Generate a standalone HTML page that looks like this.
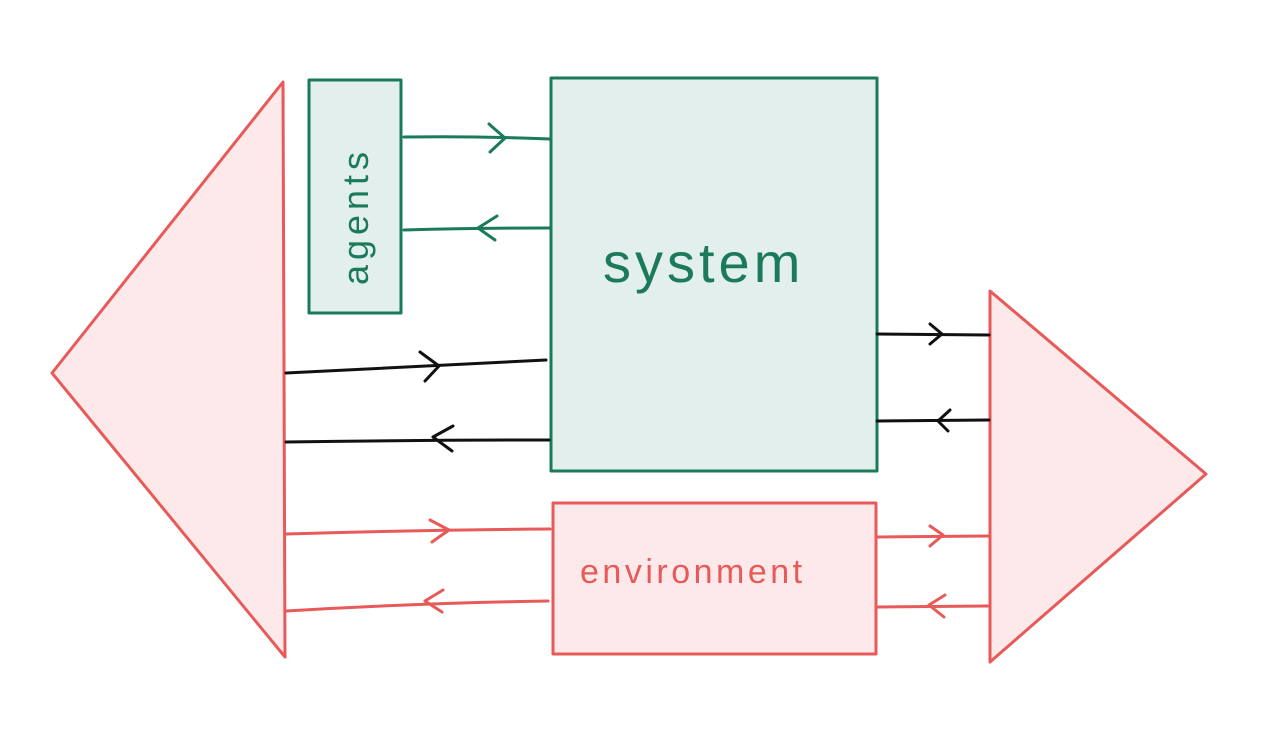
<!DOCTYPE html>
<html><head><meta charset="utf-8"><style>html,body{margin:0;padding:0;background:#fff}svg{display:block}</style></head><body>
<svg width="1280" height="741" viewBox="0 0 1280 741" xmlns="http://www.w3.org/2000/svg">
<g stroke-linecap="round" stroke-linejoin="round" fill="none">
<polygon points="52,373 283,82 285,657" fill="#fde9e9" stroke="#e85a5a" stroke-width="3"/>
<polygon points="990,291 1206,474 990,662" fill="#fde9e9" stroke="#e85a5a" stroke-width="3"/>
<rect x="309" y="80" width="92" height="233" fill="#e3efed" stroke="#1a7a5a" stroke-width="3"/>
<rect x="551" y="78" width="326" height="393" fill="#e3efed" stroke="#1a7a5a" stroke-width="3"/>
<rect x="553" y="503" width="323" height="151" fill="#fde9e9" stroke="#e85a5a" stroke-width="3"/>
<g stroke="#1a7a5a" stroke-width="3">
<path d="M404,137 Q480,136 550,139"/><path d="M489,124 L505,138 L490,152"/>
<path d="M404,230 Q480,228 550,228"/><path d="M497,216 L478,228 L495,240"/>
</g>
<g stroke="#111" stroke-width="3">
<path d="M286,373 Q420,366 546,360"/><path d="M420,352 L439,366 L425,381"/>
<path d="M286,442 Q420,440 549,440"/><path d="M453,426 L433,437 L452,451"/>
<path d="M877,334 L989,335"/><path d="M930,324 L942,334 L930,344"/>
<path d="M877,421 L989,420"/><path d="M950,410 L938,421 L948,431"/>
</g>
<g stroke="#e85a5a" stroke-width="3">
<path d="M286,534 Q420,530 550,529"/><path d="M430,520 L449,530 L432,542"/>
<path d="M286,611 Q420,603 548,601"/><path d="M443,590 L425,601 L442,612"/>
<path d="M877,537 L988,536"/><path d="M930,526 L943,535 L930,546"/>
<path d="M877,607 L988,606"/><path d="M945,595 L929,605 L944,617"/>
</g>
</g>
<text x="603" y="282" font-family="Liberation Sans, sans-serif" font-size="56" letter-spacing="4" fill="#1a7a5a">system</text>
<text x="580" y="583" font-family="Liberation Sans, sans-serif" font-size="34" letter-spacing="3.5" fill="#e85a5a">environment</text>
<text transform="translate(368,216) rotate(-90)" text-anchor="middle" font-family="Liberation Sans, sans-serif" font-size="36" letter-spacing="5" fill="#1a7a5a">agents</text>
</svg>
</body></html>
